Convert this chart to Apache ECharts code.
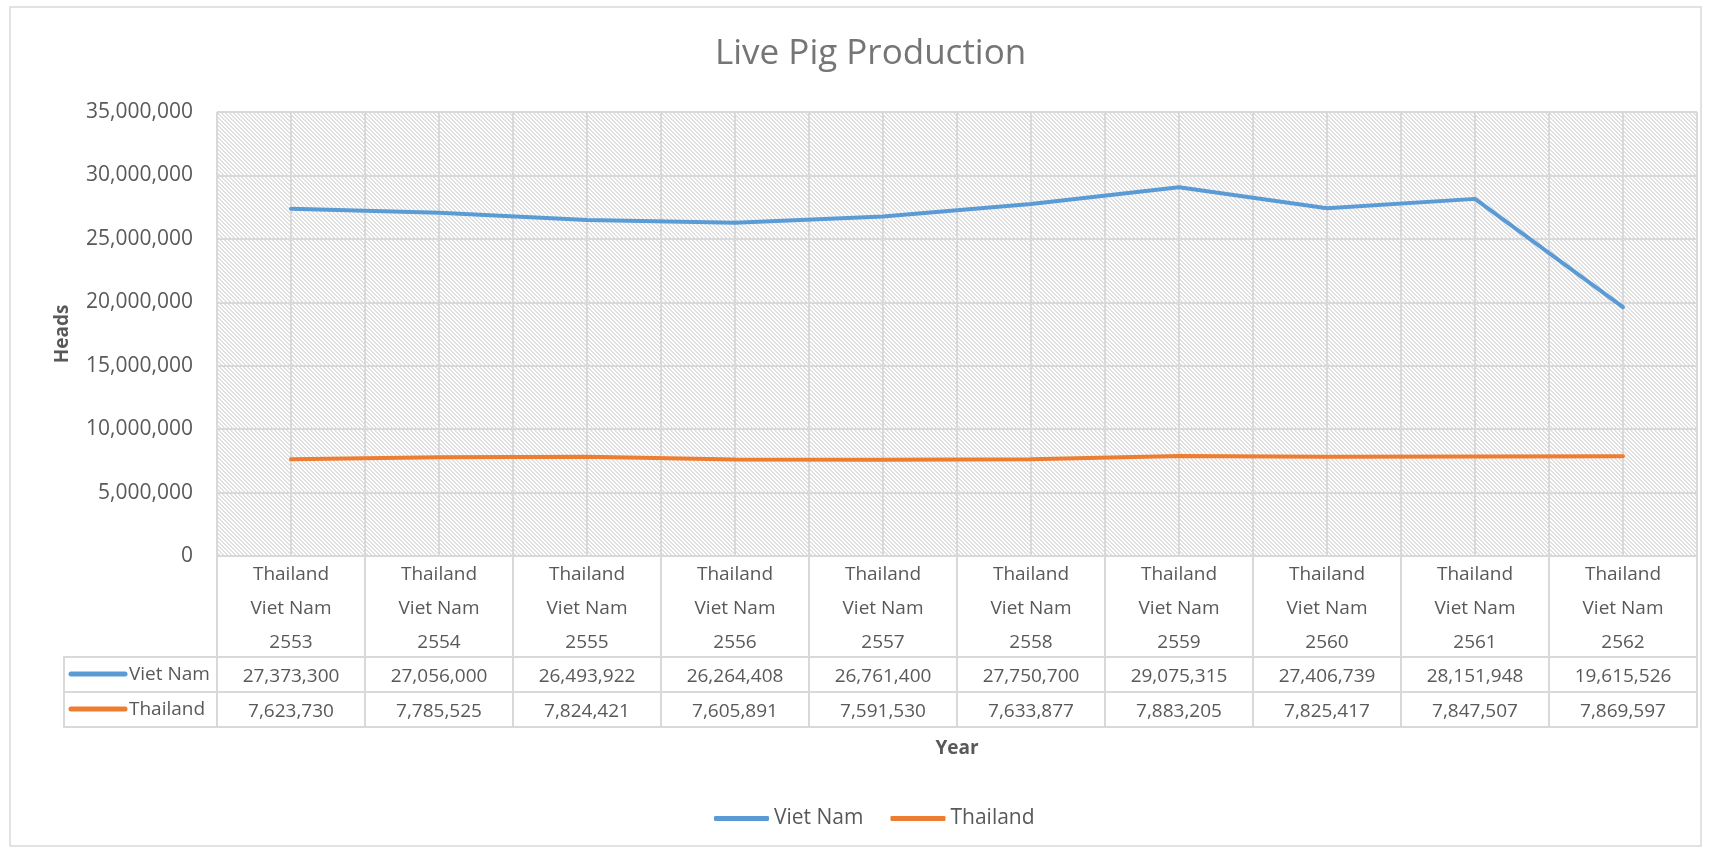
<!DOCTYPE html>
<html>
<head>
<meta charset="utf-8">
<title>Live Pig Production</title>
<script src="https://cdn.jsdelivr.net/npm/echarts@6/dist/echarts.min.js"></script>
<style>
  html, body { margin: 0; padding: 0; background: #fff; }
  #chart { width: 1710px; height: 850px; }
</style>
</head>
<body>
<div id="chart"></div>
<script>
// chart data
const years = ['2553', '2554', '2555', '2556', '2557', '2558', '2559', '2560', '2561', '2562'];
const seriesNames = ['Viet Nam', 'Thailand'];
const vietNam = [27373300, 27056000, 26493922, 26264408, 26761400, 27750700, 29075315, 27406739, 28151948, 19615526];
const thailand = [7623730, 7785525, 7824421, 7605891, 7591530, 7633877, 7883205, 7825417, 7847507, 7869597];
const yTicks = [0, 5000000, 10000000, 15000000, 20000000, 25000000, 30000000, 35000000];

const colors = ['#5B9BD5', '#ED7D31'];
const grey = '#d9d9d9';
const txt = '#595959';
const font = 'Open Sans';

const fmt = v => Number(v).toLocaleString('en-US');

// hatch pattern for the plot background (light downward diagonal)
function hatch() {
  const c = document.createElement('canvas');
  c.width = 4;
  c.height = 4;
  const ctx = c.getContext('2d');
  ctx.fillStyle = '#ffffff';
  ctx.fillRect(0, 0, 4, 4);
  ctx.fillStyle = '#e0e0e0';
  for (let y = 0; y < 4; y++) {
    for (let x = 0; x < 4; x++) {
      const d = ((x - y) % 4 + 4) % 4;
      if (d < 2) ctx.fillRect(x, y, 1, 1);
    }
  }
  return c;
}

const myChart = echarts.init(document.getElementById('chart'));

myChart.setOption({
  animation: false,
  backgroundColor: '#fff',
  textStyle: { fontFamily: font },
  title: {
    text: 'Live Pig Production',
    left: 710,
    top: 32,
    textStyle: { fontFamily: font, fontSize: 35, fontWeight: 'normal', color: '#757575' }
  },
  legend: {
    data: seriesNames,
    left: 709,
    top: 803,
    itemWidth: 55,
    itemHeight: 5,
    itemGap: 27,
    icon: 'roundRect',
    textStyle: { fontFamily: font, fontSize: 21, color: txt }
  },
  grid: {
    left: 217,
    right: 13,
    top: 112,
    bottom: 294,
    containLabel: false,
    outerBoundsMode: 'none',
    show: true,
    borderWidth: 0,
    backgroundColor: { image: hatch(), repeat: 'repeat' }
  },
  xAxis: [
    {
      // main category axis with three-line labels
      type: 'category',
      position: 'bottom',
      data: years,
      boundaryGap: true,
      axisLine: { lineStyle: { color: grey, width: 2 } },
      axisTick: { show: true, interval: 0, length: 171, lineStyle: { color: grey, width: 2 } },
      axisLabel: {
        interval: 0,
        margin: 2,
        lineHeight: 34,
        fontSize: 19,
        color: txt,
        fontFamily: font,
        formatter: v => seriesNames[1] + '\n' + seriesNames[0] + '\n' + v
      },
      splitLine: { show: false }
    },
    {
      // vertical gridlines every half category
      type: 'value',
      position: 'bottom',
      min: 0,
      max: years.length * 2,
      interval: 1,
      axisLine: { show: false },
      axisTick: { show: false },
      axisLabel: { show: false },
      splitLine: { show: true, lineStyle: { color: grey, width: 2 } }
    },
    {
      // data table row: Viet Nam
      type: 'category',
      position: 'bottom',
      offset: 101,
      data: vietNam.map(fmt),
      axisLine: { lineStyle: { color: grey, width: 2 } },
      axisTick: { show: false },
      axisLabel: { interval: 0, margin: 2, lineHeight: 35, fontSize: 19, color: txt, fontFamily: font }
    },
    {
      // data table row: Thailand
      type: 'category',
      position: 'bottom',
      offset: 136,
      data: thailand.map(fmt),
      axisLine: { lineStyle: { color: grey, width: 2 } },
      axisTick: { show: false },
      axisLabel: { interval: 0, margin: 2, lineHeight: 35, fontSize: 19, color: txt, fontFamily: font }
    },
    {
      // bottom edge of the table + axis title
      type: 'category',
      position: 'bottom',
      offset: 171,
      data: years,
      axisLine: { lineStyle: { color: grey, width: 2 } },
      axisTick: { show: false },
      axisLabel: { show: false },
      name: 'Year',
      nameLocation: 'middle',
      nameGap: 12,
      nameTextStyle: { fontFamily: font, fontSize: 19, fontWeight: 'bold', color: txt, lineHeight: 20 }
    }
  ],
  yAxis: {
    type: 'value',
    min: yTicks[0],
    max: yTicks[yTicks.length - 1],
    interval: yTicks[1] - yTicks[0],
    axisLine: { show: false },
    axisTick: { show: false },
    axisLabel: { margin: 24, fontSize: 21, color: txt, fontFamily: font, formatter: fmt },
    splitLine: { show: true, lineStyle: { color: grey, width: 2 } },
    name: 'Heads',
    nameLocation: 'middle',
    nameRotate: 90,
    nameGap: 145,
    nameTextStyle: { fontFamily: font, fontSize: 19, fontWeight: 'bold', color: txt }
  },
  series: [
    {
      name: seriesNames[0],
      type: 'line',
      data: vietNam,
      xAxisIndex: 0,
      showSymbol: false,
      symbol: 'none',
      color: colors[0],
      lineStyle: { width: 4, color: colors[0], cap: 'round' },
      z: 5
    },
    {
      name: seriesNames[1],
      type: 'line',
      data: thailand,
      xAxisIndex: 0,
      showSymbol: false,
      symbol: 'none',
      color: colors[1],
      lineStyle: { width: 4, color: colors[1], cap: 'round' },
      z: 5
    }
  ],
  graphic: [
    // outer chart frame
    { type: 'rect', shape: { x: 10, y: 7, width: 1691, height: 839 }, style: { fill: null, stroke: grey, lineWidth: 1.5 }, silent: true },
    // row header cells of the data table
    { type: 'line', shape: { x1: 64, y1: 657, x2: 217, y2: 657 }, style: { stroke: grey, lineWidth: 2 } },
    { type: 'line', shape: { x1: 64, y1: 692, x2: 217, y2: 692 }, style: { stroke: grey, lineWidth: 2 } },
    { type: 'line', shape: { x1: 64, y1: 727, x2: 217, y2: 727 }, style: { stroke: grey, lineWidth: 2 } },
    { type: 'line', shape: { x1: 64, y1: 656, x2: 64, y2: 728 }, style: { stroke: grey, lineWidth: 2 } },
    { type: 'line', shape: { x1: 71, y1: 674, x2: 125, y2: 674 }, style: { stroke: colors[0], lineWidth: 5, lineCap: 'round' } },
    { type: 'line', shape: { x1: 71, y1: 709, x2: 125, y2: 709 }, style: { stroke: colors[1], lineWidth: 5, lineCap: 'round' } },
    { type: 'text', x: 129, y: 675, style: { text: seriesNames[0], font: '19px "Open Sans"', fill: txt, verticalAlign: 'middle' } },
    { type: 'text', x: 129, y: 710, style: { text: seriesNames[1], font: '19px "Open Sans"', fill: txt, verticalAlign: 'middle' } }
  ]
});
</script>
</body>
</html>
